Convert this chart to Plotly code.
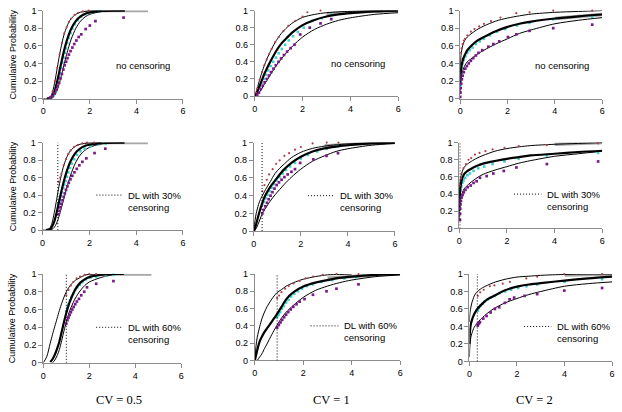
import plotly.graph_objects as go

W, H = 622, 412

# ---------------- x grids for the fitted curves ----------------
COL1_X = [0.0, 0.15, 0.3, 0.4, 0.5, 0.6, 0.7, 0.8, 0.9, 1.0, 1.1, 1.2, 1.4, 1.6, 1.8, 2.0, 2.5, 3.0, 3.5]
COL2_X = [0.0, 0.05, 0.1, 0.2, 0.3, 0.4, 0.5, 0.7, 0.9, 1.1, 1.3, 1.6, 2.0, 2.5, 3.0, 3.5, 4.0, 5.0, 6.0]
COL3_X = [0.0, 0.01, 0.03, 0.06, 0.1, 0.15, 0.2, 0.3, 0.5, 0.75, 1.0, 1.5, 2.0, 2.5, 3.0, 4.0, 5.0, 6.0]

# ---------------- CV = 0.5 ----------------
P11_UP = [0, 0, 0.017, 0.08, 0.2, 0.35, 0.5, 0.63, 0.735, 0.81, 0.87, 0.91, 0.958, 0.981, 0.991, 0.997, 1.0, None, None]
P11_MID = [None, 0, 0.007, 0.037, 0.1, 0.2, 0.32, 0.44, 0.554, 0.65, 0.73, 0.794, 0.883, 0.934, 0.963, 0.979, 0.995, 0.999, 1.0]
P11_LOW = [None, None, 0.001, 0.011, 0.042, 0.1, 0.187, 0.288, 0.397, 0.5, 0.594, 0.676, 0.8, 0.88, 0.929, 0.958, 0.989, 0.997, 1.0]
P11_GRAY_X = [1.8, 2.2, 3.0, 4.5]
P11_GRAY_Y = [0.985, 0.998, 1.0, 1.0]
P11_RED_X = [0.3, 0.4, 0.5, 0.6, 0.7, 0.8, 0.9, 1.0, 1.1, 1.2, 1.35, 1.5, 1.7, 1.95]
P11_RED_Y = [0.02, 0.08, 0.2, 0.35, 0.5, 0.63, 0.74, 0.81, 0.87, 0.91, 0.95, 0.975, 0.99, 1.0]
P11_CYAN_X = [0.35, 0.45, 0.52, 0.58, 0.63, 0.68, 0.72, 0.77, 0.82, 0.87, 0.92, 0.97, 1.03, 1.10, 1.17, 1.25, 1.35, 1.47, 1.62, 1.80, 2.05, 2.40]
P11_CYAN_Y = [0.01, 0.04, 0.085, 0.136, 0.187, 0.242, 0.288, 0.348, 0.408, 0.466, 0.522, 0.574, 0.632, 0.69, 0.744, 0.795, 0.845, 0.89, 0.929, 0.958, 0.98, 0.993]
P11_PUR_X = [0.3, 0.4, 0.48, 0.55, 0.62, 0.68, 0.74, 0.80, 0.86, 0.92, 0.98, 1.04, 1.10, 1.17, 1.25, 1.33, 1.42, 1.52, 1.63, 1.82, 2.0, 2.24, 3.45]
P11_PUR_Y = [0.01, 0.03, 0.06, 0.10, 0.14, 0.18, 0.23, 0.28, 0.33, 0.38, 0.42, 0.46, 0.50, 0.54, 0.58, 0.62, 0.66, 0.70, 0.73, 0.79, 0.83, 0.88, 0.92]

P21_UP = P11_UP
P21_MID = [None, 0, 0.01, 0.04, 0.1, 0.2, 0.32, 0.44, 0.55, 0.645, 0.725, 0.79, 0.88, 0.93, 0.96, 0.975, 0.993, 0.999, 1.0]
P21_LOW = [None, None, 0.001, 0.008, 0.032, 0.08, 0.155, 0.25, 0.35, 0.45, 0.545, 0.63, 0.765, 0.855, 0.91, 0.945, 0.985, 0.996, 1.0]
P21_GRAY_X = [1.8, 2.2, 3.0, 4.5]
P21_GRAY_Y = [0.985, 0.998, 1.0, 1.0]
P21_RED_X = [0.68, 0.75, 0.8, 0.9, 1.0, 1.1, 1.2, 1.35, 1.5, 1.7, 1.9, 2.2]
P21_RED_Y = [0.55, 0.6, 0.64, 0.74, 0.81, 0.87, 0.91, 0.95, 0.97, 0.99, 1.0, 1.0]
P21_CYAN_X = [0.68, 0.73, 0.78, 0.83, 0.88, 0.93, 0.98, 1.04, 1.10, 1.17, 1.25, 1.35, 1.47, 1.62, 1.80, 2.05, 2.40, 2.7]
P21_CYAN_Y = [0.30, 0.34, 0.39, 0.43, 0.48, 0.52, 0.56, 0.61, 0.66, 0.71, 0.76, 0.81, 0.86, 0.90, 0.93, 0.96, 0.98, 0.99]
P21_PUR_X = [0.68, 0.72, 0.76, 0.80, 0.85, 0.90, 0.95, 1.0, 1.06, 1.12, 1.19, 1.27, 1.36, 1.46, 1.57, 1.70, 1.87, 2.22, 2.68]
P21_PUR_Y = [0.18, 0.22, 0.26, 0.30, 0.34, 0.38, 0.42, 0.46, 0.50, 0.54, 0.58, 0.62, 0.66, 0.70, 0.74, 0.78, 0.82, 0.88, 0.93]

P31_UP = [0, 0.07, 0.22, 0.32, 0.41, 0.50, 0.59, 0.67, 0.74, 0.80, 0.845, 0.88, 0.93, 0.96, 0.985, 0.997, 1.0, None, None]
P31_MID = [None, None, 0.01, 0.04, 0.09, 0.16, 0.24, 0.35, 0.46, 0.56, 0.65, 0.72, 0.83, 0.9, 0.94, 0.965, 0.99, 1.0, 1.0]
P31_LOW = [None, None, None, 0.0, 0.03, 0.08, 0.15, 0.25, 0.36, 0.46, 0.55, 0.62, 0.73, 0.81, 0.87, 0.91, 0.96, 0.99, 1.0]
P31_GRAY_X = [2.0, 2.5, 3.2, 4.7]
P31_GRAY_Y = [0.985, 0.997, 1.0, 1.0]
P31_RED_X = [1.0, 1.1, 1.2, 1.3, 1.45, 1.6, 1.8, 2.0, 2.3]
P31_RED_Y = [0.76, 0.82, 0.87, 0.91, 0.95, 0.97, 0.99, 1.0, 1.0]
P31_CYAN_X = [1.0, 1.05, 1.1, 1.16, 1.22, 1.3, 1.38, 1.47, 1.58, 1.7, 1.85, 2.05, 2.3, 2.7, 3.05]
P31_CYAN_Y = [0.58, 0.62, 0.66, 0.70, 0.74, 0.78, 0.82, 0.85, 0.88, 0.91, 0.94, 0.96, 0.97, 0.985, 0.99]
P31_PUR_X = [1.0, 1.05, 1.1, 1.15, 1.2, 1.26, 1.32, 1.39, 1.46, 1.55, 1.65, 1.78, 1.9, 2.3, 3.05]
P31_PUR_Y = [0.44, 0.48, 0.51, 0.54, 0.57, 0.60, 0.63, 0.66, 0.69, 0.72, 0.76, 0.80, 0.85, 0.89, 0.92]

# ---------------- CV = 1 ----------------
P12_UP = [0, 0.04, 0.09, 0.19, 0.28, 0.36, 0.43, 0.55, 0.65, 0.73, 0.79, 0.86, 0.92, 0.955, 0.975, 0.985, 0.99, 0.997, 1.0]
P12_MID = [0, 0.02, 0.05, 0.12, 0.19, 0.26, 0.32, 0.43, 0.53, 0.61, 0.67, 0.75, 0.83, 0.89, 0.93, 0.955, 0.97, 0.99, 1.0]
P12_LOW = [0, 0.005, 0.015, 0.05, 0.09, 0.14, 0.18, 0.27, 0.36, 0.43, 0.50, 0.59, 0.69, 0.78, 0.84, 0.885, 0.915, 0.955, 0.975]
P12_GRAY_X = [3.0, 4.0, 5.0, 6.0]
P12_GRAY_Y = [0.96, 0.98, 0.995, 1.0]
P12_RED_X = [0.05, 0.1, 0.2, 0.3, 0.4, 0.5, 0.6, 0.7, 0.85, 1.0, 1.2, 1.4, 1.7, 2.0, 2.2, 2.75]
P12_RED_Y = [0.04, 0.09, 0.19, 0.28, 0.36, 0.43, 0.49, 0.55, 0.63, 0.69, 0.76, 0.82, 0.88, 0.93, 0.98, 1.0]
P12_CYAN_X = [0.05, 0.12, 0.2, 0.28, 0.37, 0.46, 0.56, 0.66, 0.77, 0.88, 1.0, 1.13, 1.27, 1.42, 1.6, 1.8, 2.05, 2.4, 2.8, 3.2]
P12_CYAN_Y = [0.02, 0.06, 0.10, 0.15, 0.20, 0.25, 0.30, 0.35, 0.40, 0.45, 0.50, 0.55, 0.60, 0.65, 0.70, 0.75, 0.80, 0.88, 0.91, 0.95]
P12_PUR_X = [0.1, 0.17, 0.25, 0.33, 0.41, 0.5, 0.59, 0.68, 0.78, 0.88, 0.99, 1.1, 1.22, 1.35, 1.5, 1.66, 1.9, 2.3, 2.75, 3.2]
P12_PUR_Y = [0.01, 0.04, 0.08, 0.12, 0.16, 0.20, 0.24, 0.28, 0.32, 0.36, 0.40, 0.44, 0.48, 0.52, 0.56, 0.60, 0.72, 0.80, 0.85, 0.90]

P22_UP = [0, 0.12, 0.2, 0.3, 0.37, 0.42, 0.47, 0.56, 0.65, 0.71, 0.76, 0.83, 0.89, 0.935, 0.96, 0.975, 0.985, 0.995, 1.0]
P22_MID = [0, 0.03, 0.08, 0.18, 0.27, 0.35, 0.41, 0.50, 0.57, 0.64, 0.70, 0.77, 0.84, 0.90, 0.935, 0.955, 0.97, 0.99, 1.0]
P22_LOW = [0, 0.01, 0.03, 0.09, 0.16, 0.22, 0.26, 0.34, 0.41, 0.47, 0.53, 0.61, 0.70, 0.79, 0.85, 0.90, 0.93, 0.97, 0.99]
P22_GRAY_X = [3.0, 4.0, 5.0, 6.0]
P22_GRAY_Y = [0.96, 0.98, 0.995, 1.0]
P22_RED_X = [0.36, 0.45, 0.55, 0.65, 0.8, 0.95, 1.1, 1.3, 1.5, 1.75, 2.0, 2.5, 3.1, 3.6]
P22_RED_Y = [0.45, 0.52, 0.58, 0.64, 0.70, 0.76, 0.80, 0.85, 0.88, 0.92, 0.95, 0.99, 1.0, 1.0]
P22_CYAN_X = [0.36, 0.42, 0.5, 0.58, 0.67, 0.76, 0.86, 0.97, 1.09, 1.22, 1.37, 1.54, 1.75, 2.0, 2.3, 2.7, 3.1, 3.58]
P22_CYAN_Y = [0.30, 0.33, 0.37, 0.41, 0.45, 0.49, 0.53, 0.57, 0.61, 0.65, 0.69, 0.73, 0.77, 0.82, 0.86, 0.90, 0.93, 0.96]
P22_PUR_X = [0.36, 0.42, 0.49, 0.56, 0.63, 0.71, 0.79, 0.88, 0.97, 1.07, 1.18, 1.3, 1.44, 1.6, 1.75, 1.97, 2.53, 3.09, 3.58]
P22_PUR_Y = [0.20, 0.24, 0.28, 0.32, 0.36, 0.40, 0.44, 0.48, 0.52, 0.55, 0.58, 0.61, 0.64, 0.67, 0.70, 0.77, 0.81, 0.85, 0.88]

P32_UP = [0, 0.17, 0.27, 0.39, 0.49, 0.56, 0.62, 0.71, 0.78, 0.82, 0.86, 0.90, 0.94, 0.97, 0.99, 0.995, 1.0, None, None]
P32_MID = [0, 0.06, 0.12, 0.22, 0.28, 0.33, 0.37, 0.45, 0.53, 0.62, 0.71, 0.79, 0.855, 0.90, 0.93, 0.955, 0.97, 0.99, 1.0]
P32_LOW = [None, None, 0.0, 0.04, 0.08, 0.14, 0.19, 0.30, 0.40, 0.49, 0.56, 0.64, 0.73, 0.81, 0.86, 0.90, 0.93, 0.97, 0.99]
P32_GRAY_X = [3.0, 4.0, 5.0, 6.0]
P32_GRAY_Y = [0.95, 0.975, 0.99, 1.0]
P32_RED_X = [0.92, 1.0, 1.1, 1.25, 1.4, 1.6, 1.85, 2.1, 2.4, 2.8, 3.37, 4.28]
P32_RED_Y = [0.72, 0.75, 0.79, 0.83, 0.86, 0.89, 0.92, 0.95, 0.97, 0.99, 1.0, 1.0]
P32_CYAN_X = [0.92, 0.98, 1.05, 1.12, 1.2, 1.29, 1.39, 1.5, 1.63, 1.78, 1.95, 2.15, 2.4, 2.75, 3.2, 3.7, 4.2]
P32_CYAN_Y = [0.50, 0.53, 0.56, 0.60, 0.63, 0.67, 0.70, 0.74, 0.77, 0.80, 0.83, 0.86, 0.88, 0.91, 0.93, 0.95, 0.96]
P32_PUR_X = [0.92, 0.99, 1.06, 1.13, 1.21, 1.29, 1.38, 1.48, 1.59, 1.72, 1.85, 2.05, 2.4, 2.96, 3.37, 4.28]
P32_PUR_Y = [0.38, 0.41, 0.44, 0.47, 0.50, 0.53, 0.56, 0.59, 0.62, 0.65, 0.68, 0.71, 0.76, 0.80, 0.83, 0.88]

# ---------------- CV = 2 ----------------
P13_UP = [0.30, 0.42, 0.49, 0.55, 0.60, 0.64, 0.665, 0.70, 0.745, 0.79, 0.825, 0.88, 0.915, 0.94, 0.96, 0.98, 0.99, 1.0]
P13_MID = [0.15, 0.25, 0.32, 0.38, 0.43, 0.47, 0.50, 0.55, 0.61, 0.665, 0.70, 0.765, 0.815, 0.85, 0.875, 0.91, 0.935, 0.955]
P13_LOW = [0.05, 0.15, 0.22, 0.27, 0.31, 0.35, 0.38, 0.42, 0.46, 0.51, 0.55, 0.62, 0.68, 0.74, 0.78, 0.85, 0.89, 0.92]
P13_GRAY_X = [4.0, 5.0, 6.0]
P13_GRAY_Y = [0.91, 0.935, 0.955]
P13_RED_X = [0.01, 0.03, 0.06, 0.1, 0.15, 0.2, 0.3, 0.45, 0.6, 0.8, 1.0, 1.3, 1.7, 2.37, 2.93, 3.93, 5.58]
P13_RED_Y = [0.45, 0.52, 0.57, 0.62, 0.66, 0.68, 0.72, 0.76, 0.79, 0.82, 0.85, 0.88, 0.92, 0.97, 0.98, 1.0, 1.0]
P13_CYAN_X = [0.0, 0.01, 0.03, 0.06, 0.1, 0.15, 0.22, 0.3, 0.4, 0.52, 0.66, 0.82, 1.0, 1.25, 1.55, 1.9, 2.4, 2.93, 3.93, 5.58]
P13_CYAN_Y = [0.15, 0.22, 0.29, 0.35, 0.40, 0.44, 0.48, 0.52, 0.55, 0.58, 0.62, 0.65, 0.68, 0.72, 0.76, 0.79, 0.83, 0.86, 0.90, 0.93]
P13_PUR_X = [0.0, 0.01, 0.02, 0.04, 0.07, 0.1, 0.15, 0.21, 0.28, 0.36, 0.45, 0.55, 0.66, 0.77, 0.93, 1.19, 1.4, 1.65, 2.02, 2.37, 2.93, 3.93, 5.58]
P13_PUR_Y = [0.02, 0.07, 0.12, 0.17, 0.22, 0.26, 0.30, 0.34, 0.37, 0.40, 0.43, 0.46, 0.49, 0.52, 0.55, 0.59, 0.62, 0.65, 0.70, 0.73, 0.77, 0.80, 0.84]

P23_UP = [0.35, 0.45, 0.53, 0.59, 0.64, 0.68, 0.71, 0.74, 0.78, 0.82, 0.85, 0.90, 0.93, 0.95, 0.965, 0.98, 0.99, 1.0]
P23_MID = [0.2, 0.32, 0.42, 0.50, 0.56, 0.60, 0.63, 0.66, 0.695, 0.73, 0.755, 0.785, 0.81, 0.83, 0.85, 0.87, 0.89, 0.905]
P23_LOW = [0.1, 0.2, 0.28, 0.34, 0.39, 0.43, 0.46, 0.49, 0.54, 0.59, 0.63, 0.68, 0.72, 0.76, 0.79, 0.84, 0.87, 0.90]
P23_GRAY_X = [4.0, 5.0, 6.0]
P23_GRAY_Y = [0.98, 0.99, 1.0]
P23_RED_X = [0.03, 0.06, 0.1, 0.18, 0.28, 0.39, 0.5, 0.66, 0.85, 1.1, 1.4, 1.9, 2.5, 3.68, 5.83]
P23_RED_Y = [0.50, 0.58, 0.64, 0.70, 0.75, 0.80, 0.82, 0.86, 0.88, 0.90, 0.92, 0.94, 0.96, 0.97, 0.99]
P23_CYAN_X = [0.03, 0.04, 0.06, 0.09, 0.13, 0.18, 0.25, 0.34, 0.45, 0.6, 0.8, 1.05, 1.4, 1.9, 2.5, 3.68, 5.83]
P23_CYAN_Y = [0.30, 0.38, 0.44, 0.49, 0.53, 0.56, 0.59, 0.62, 0.64, 0.67, 0.70, 0.72, 0.75, 0.78, 0.81, 0.85, 0.88]
P23_PUR_X = [0.03, 0.035, 0.04, 0.05, 0.07, 0.1, 0.14, 0.19, 0.26, 0.35, 0.48, 0.6, 0.73, 0.87, 1.15, 1.43, 1.87, 2.4, 3.68, 5.83]
P23_PUR_Y = [0.10, 0.17, 0.23, 0.28, 0.32, 0.36, 0.39, 0.42, 0.45, 0.48, 0.50, 0.53, 0.55, 0.59, 0.61, 0.64, 0.67, 0.71, 0.75, 0.78]

P33_UP = [0.45, 0.52, 0.57, 0.62, 0.67, 0.71, 0.75, 0.79, 0.835, 0.87, 0.90, 0.94, 0.965, 0.975, 0.985, 0.995, 1.0, 1.0]
P33_MID = [0.2, 0.3, 0.37, 0.43, 0.47, 0.51, 0.54, 0.59, 0.65, 0.71, 0.745, 0.815, 0.855, 0.88, 0.895, 0.925, 0.95, 0.97]
P33_LOW = [0.05, 0.14, 0.22, 0.28, 0.32, 0.36, 0.39, 0.43, 0.49, 0.55, 0.60, 0.67, 0.72, 0.765, 0.80, 0.86, 0.89, 0.91]
P33_GRAY_X = [4.0, 5.0, 6.0]
P33_GRAY_Y = [0.99, 0.995, 1.0]
P33_RED_X = [0.35, 0.45, 0.6, 0.86, 1.05, 1.4, 1.7, 2.39, 2.85, 3.99, 5.58]
P33_RED_Y = [0.75, 0.79, 0.82, 0.86, 0.87, 0.89, 0.91, 0.95, 0.97, 1.0, 1.0]
P33_CYAN_X = [0.35, 0.4, 0.47, 0.55, 0.65, 0.77, 0.9, 1.05, 1.25, 1.5, 1.75, 2.05, 2.4, 2.85, 4.0, 5.58]
P33_CYAN_Y = [0.58, 0.61, 0.64, 0.66, 0.69, 0.71, 0.73, 0.75, 0.78, 0.80, 0.82, 0.84, 0.86, 0.88, 0.91, 0.94]
P33_PUR_X = [0.35, 0.38, 0.41, 0.44, 0.58, 0.72, 0.89, 1.07, 1.25, 1.49, 1.69, 1.88, 2.32, 2.85, 3.99, 5.58]
P33_PUR_Y = [0.41, 0.43, 0.44, 0.45, 0.49, 0.52, 0.56, 0.60, 0.62, 0.67, 0.71, 0.73, 0.75, 0.77, 0.81, 0.84]

# detection limits (rows 2 and 3), censoring labels, column labels
DL = {4: 0.65, 5: 0.35, 6: 0.03, 7: 1.0, 8: 0.92, 9: 0.33}
DL_TEXT = {4: "DL with 30%<br>censoring", 5: "DL with 30%<br>censoring", 6: "DL with 30%<br>censoring",
           7: "DL with 60%<br>censoring", 8: "DL with 60%<br>censoring", 9: "DL with 60%<br>censoring"}
CV_LABELS = ["CV = 0.5", "CV = 1", "CV = 2"]
X_TICKS = [0, 2, 4, 6]
Y_TICKS = [0, 0.2, 0.4, 0.6, 0.8, 1]

# panel pixel boxes: (x at 0, x at 6, y px at 1, y px at 0)
BOX = {
    1: (40.7, 181.7, 5.7, 96.0), 2: (254.3, 399.0, 5.7, 93.3), 3: (461.7, 605.0, 5.7, 96.0),
    4: (40.0, 181.7, 141.0, 230.7), 5: (253.3, 395.7, 141.0, 231.7), 6: (460.7, 605.0, 141.0, 229.0),
    7: (40.7, 180.0, 275.7, 366.7), 8: (254.3, 401.0, 275.7, 364.3), 9: (471.0, 615.0, 275.7, 365.3),
}

panels = {
    1: (COL1_X, P11_UP, P11_MID, P11_LOW, P11_GRAY_X, P11_GRAY_Y, P11_RED_X, P11_RED_Y, P11_CYAN_X, P11_CYAN_Y, P11_PUR_X, P11_PUR_Y),
    2: (COL2_X, P12_UP, P12_MID, P12_LOW, P12_GRAY_X, P12_GRAY_Y, P12_RED_X, P12_RED_Y, P12_CYAN_X, P12_CYAN_Y, P12_PUR_X, P12_PUR_Y),
    3: (COL3_X, P13_UP, P13_MID, P13_LOW, P13_GRAY_X, P13_GRAY_Y, P13_RED_X, P13_RED_Y, P13_CYAN_X, P13_CYAN_Y, P13_PUR_X, P13_PUR_Y),
    4: (COL1_X, P21_UP, P21_MID, P21_LOW, P21_GRAY_X, P21_GRAY_Y, P21_RED_X, P21_RED_Y, P21_CYAN_X, P21_CYAN_Y, P21_PUR_X, P21_PUR_Y),
    5: (COL2_X, P22_UP, P22_MID, P22_LOW, P22_GRAY_X, P22_GRAY_Y, P22_RED_X, P22_RED_Y, P22_CYAN_X, P22_CYAN_Y, P22_PUR_X, P22_PUR_Y),
    6: (COL3_X, P23_UP, P23_MID, P23_LOW, P23_GRAY_X, P23_GRAY_Y, P23_RED_X, P23_RED_Y, P23_CYAN_X, P23_CYAN_Y, P23_PUR_X, P23_PUR_Y),
    7: (COL1_X, P31_UP, P31_MID, P31_LOW, P31_GRAY_X, P31_GRAY_Y, P31_RED_X, P31_RED_Y, P31_CYAN_X, P31_CYAN_Y, P31_PUR_X, P31_PUR_Y),
    8: (COL2_X, P32_UP, P32_MID, P32_LOW, P32_GRAY_X, P32_GRAY_Y, P32_RED_X, P32_RED_Y, P32_CYAN_X, P32_CYAN_Y, P32_PUR_X, P32_PUR_Y),
    9: (COL3_X, P33_UP, P33_MID, P33_LOW, P33_GRAY_X, P33_GRAY_Y, P33_RED_X, P33_RED_Y, P33_CYAN_X, P33_CYAN_Y, P33_PUR_X, P33_PUR_Y),
}

FONT = "Liberation Sans, Arial, sans-serif"
AXIS_COLOR = "#8c8c8c"
DOT = "1px,2px"

fig = go.Figure()
layout = dict(width=W, height=H, margin=dict(l=0, r=0, t=0, b=0), showlegend=False,
              plot_bgcolor="white", paper_bgcolor="white", font=dict(family=FONT, size=9, color="black"))
shapes, annotations = [], []

for k, (gx, up, mid, low, grx, gry, rx, ry, cx, cy, px, py) in panels.items():
    sfx = "" if k == 1 else str(k)
    xa, ya = "x" + sfx, "y" + sfx
    common = dict(xaxis=xa, yaxis=ya, cliponaxis=False, hoverinfo="skip")
    sm = dict(shape="spline", smoothing=0.8)
    fig.add_trace(go.Scatter(x=grx, y=gry, mode="lines", line=dict(color="#a6a6a6", width=3.5), **common))
    fig.add_trace(go.Scatter(x=gx, y=up, mode="lines", line=dict(color="black", width=1, **sm), **common))
    fig.add_trace(go.Scatter(x=gx, y=low, mode="lines", line=dict(color="black", width=1, **sm), **common))
    fig.add_trace(go.Scatter(x=cx, y=cy, mode="markers", marker=dict(color="#40d0d0", size=2.6, symbol="square"), **common))
    fig.add_trace(go.Scatter(x=gx, y=mid, mode="lines", line=dict(color="black", width=2.2, **sm), **common))
    fig.add_trace(go.Scatter(x=rx, y=ry, mode="markers", marker=dict(color="#b0404a", size=2.2), **common))
    fig.add_trace(go.Scatter(x=px, y=py, mode="markers", marker=dict(color="#7a1a8a", size=2.7, symbol="square"), **common))

    x0, x6, y1, y0 = BOX[k]
    axx = "xaxis" + sfx
    axy = "yaxis" + sfx
    layout[axx] = dict(domain=[x0 / W, x6 / W], anchor=ya, range=[0, 6], tickvals=X_TICKS,
                       showline=True, linecolor=AXIS_COLOR, linewidth=1, ticks="outside", ticklen=4,
                       tickcolor=AXIS_COLOR, showgrid=False, zeroline=False, tickfont=dict(size=9, family=FONT))
    layout[axy] = dict(domain=[1 - y0 / H, 1 - y1 / H], anchor=xa, range=[0, 1], tickvals=Y_TICKS,
                       showline=True, linecolor=AXIS_COLOR, linewidth=1, ticks="outside", ticklen=4,
                       tickcolor=AXIS_COLOR, showgrid=False, zeroline=False, tickfont=dict(size=9, family=FONT))

    if k <= 3:
        annotations.append(dict(x=4.3, y=0.38, xref=xa, yref=ya, text="no censoring", showarrow=False,
                                font=dict(size=9.5, family=FONT), xanchor="center", yanchor="middle"))
    else:
        d = DL[k]
        shapes.append(dict(type="line", xref=xa, yref=ya, x0=d, x1=d, y0=0, y1=1,
                           line=dict(color="black", width=1, dash=DOT)))
        ly = 0.40
        shapes.append(dict(type="line", xref=xa, yref=ya, x0=2.3, x1=3.45, y0=ly, y1=ly,
                           line=dict(color="black", width=1, dash=DOT)))
        annotations.append(dict(x=3.58, y=ly + 0.005, xref=xa, yref=ya, text=DL_TEXT[k], showarrow=False,
                                align="left", xanchor="left", yanchor="top", yshift=7,
                                font=dict(size=9.5, family=FONT)))

for r in range(3):
    _, _, y1, y0 = BOX[3 * r + 1]
    annotations.append(dict(x=10 / W, y=1 - (y0 + y1) / 2 / H, xref="paper", yref="paper",
                            text="Cumulative Probability", textangle=-90, showarrow=False,
                            font=dict(size=9, family=FONT), xanchor="center", yanchor="middle"))

for c, lab in enumerate(CV_LABELS):
    annotations.append(dict(x=[117, 331.7, 536.7][c] / W, y=1 - 405 / H, xref="paper", yref="paper",
                            text=lab, showarrow=False, xanchor="center", yanchor="middle",
                            font=dict(size=12.5, family="Liberation Serif, Times New Roman, serif")))

layout["shapes"] = shapes
layout["annotations"] = annotations
fig.update_layout(**layout)
fig.write_html("out.html")
